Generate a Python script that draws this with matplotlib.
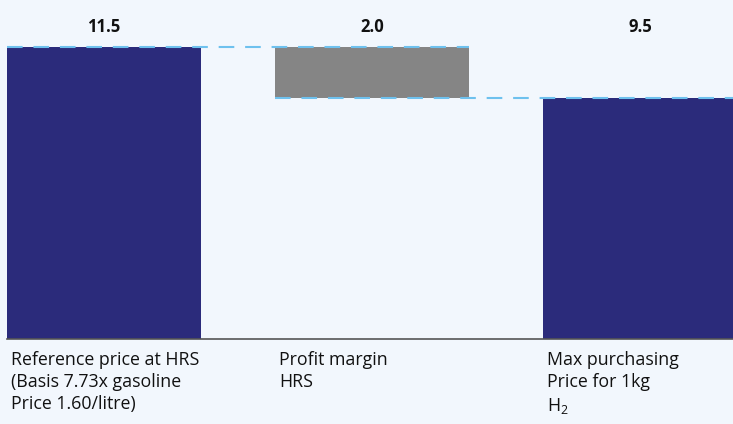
import matplotlib.pyplot as plt

plt.rcParams['font.family'] = ['Open Sans', 'DejaVu Sans']
plt.rcParams['mathtext.fontset'] = 'custom'
plt.rcParams['mathtext.rm'] = 'Open Sans'

# data
categories = ['Reference price at HRS\n(Basis 7.73x gasoline\nPrice 1.60/litre)',
              'Profit margin\nHRS',
              'Max purchasing\nPrice for 1kg\n$\\mathregular{H_2}$']
values = [11.5, 2.0, 9.5]
bottoms = [0, 9.5, 0]
value_labels = ['11.5', '2.0', '9.5']
bar_colors = ['#2b2b7b', '#858585', '#2b2b7b']

bg = '#f2f7fd'
fig = plt.figure(figsize=(7.33, 4.24), dpi=100, facecolor=bg)
ax = fig.add_axes([7/733, 85/424, 726/733, 292/424])
ax.set_facecolor(bg)

w = 194 / 268
xs = list(range(len(values)))
ax.bar(xs, values, bottom=bottoms, width=w, color=bar_colors, zorder=2)

# dashed connectors
top1 = bottoms[0] + values[0]
dash = (0, (7.5, 5.2))
ax.plot([xs[0] - w/2, xs[1] + w/2], [top1, top1], color='#6ec1ee', lw=1.5,
        ls=dash, zorder=3, clip_on=False)
ax.plot([xs[1] - w/2, xs[2] + w/2], [bottoms[1], bottoms[1]], color='#6ec1ee',
        lw=1.5, ls=dash, zorder=3, clip_on=False)

ax.set_xlim(-w/2, -w/2 + 726/268)
ax.set_ylim(0, 11.5)

for x, lab in zip(xs, value_labels):
    ax.annotate(lab, xy=(x, 11.5), xytext=(0, 14.6), textcoords='offset points',
                ha='center', va='center', fontsize=12, fontweight='bold',
                color='#111111', annotation_clip=False)

for x, cat in zip(xs, categories):
    ax.annotate(cat, xy=(x - w/2, 0), xytext=(3, -8.3), textcoords='offset points',
                ha='left', va='top', fontsize=12.8, color='#111111',
                linespacing=1.31, annotation_clip=False)

for s in ['top', 'right', 'left']:
    ax.spines[s].set_visible(False)
ax.spines['bottom'].set_color('#555555')
ax.spines['bottom'].set_linewidth(1.2)
ax.set_xticks([])
ax.set_yticks([])

fig.savefig('out.png', dpi=100, facecolor=bg)
